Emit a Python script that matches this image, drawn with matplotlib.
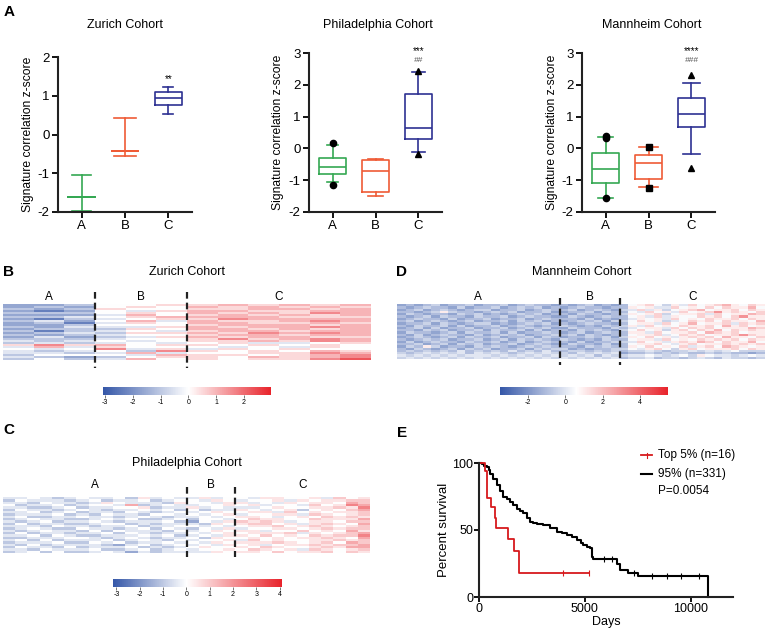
import numpy as np
import matplotlib
matplotlib.use("Agg")
import matplotlib.pyplot as plt
from matplotlib.colors import LinearSegmentedColormap, Normalize
from matplotlib.cm import ScalarMappable
from matplotlib.lines import Line2D
import matplotlib.transforms as mtransforms

plt.rcParams['font.family'] = ['Liberation Sans', 'DejaVu Sans']
plt.rcParams['axes.unicode_minus'] = False

W, H = 770, 628

# ---------------- panel A: box summaries (whislo, q1, med, q3, whishi) ----------------
groups = ["A", "B", "C"]
box_colors = ["#35a853", "#ef5b36", "#2e3192"]

zurich_stats = [(-1.98, -1.61, -1.61, -1.61, -1.05),
                (-0.56, -0.42, -0.42, -0.42, 0.42),
                (0.53, 0.76, 0.94, 1.09, 1.23)]
zurich_fliers = [[], [], []]
zurich_caps = [0.44, 0.5, 0.22]

philly_stats = [(-1.05, -0.82, -0.58, -0.29, 0.10),
                (-1.49, -1.37, -0.72, -0.37, -0.32),
                (-0.10, 0.30, 0.65, 1.71, 2.40)]
philly_fliers = [[0.16, -1.14], [], [2.42, -0.18]]
philly_caps = [0.27, 0.35, 0.3]

mannheim_stats = [(-1.56, -1.10, -0.66, -0.16, 0.35),
                  (-1.21, -0.97, -0.45, -0.21, 0.05),
                  (-0.18, 0.66, 1.07, 1.60, 2.07)]
mannheim_fliers = [[0.39, 0.34, -1.56], [0.05, -1.23], [2.32, -0.63]]
mannheim_caps = [0.34, 0.42, 0.38]

# ---------------- heatmaps: one char per cell, '|' splits groups A|B|C ----------------
LEVELS = {'0': -3.0, '1': -2.3, '2': -1.6, '3': -1.0, '4': -0.45, '5': 0.0,
          '6': 0.5, '7': 1.0, '8': 1.6, '9': 2.3, 'a': 3.0, 'b': 3.8}

zurich_rows = [
    "223|556|676767", "232|565|767676", "323|655|667767", "212|546|776677",
    "333|565|767687", "222|475|676767", "334|567|777666", "213|456|687777",
    "342|574|766787", "231|465|776676", "223|555|677767", "324|446|767787",
    "233|365|776767", "313|454|677677", "234|366|768787", "323|455|677677",
    "242|346|767766", "333|455|686787", "434|545|667687", "343|454|564456",
    "686|756|656565", "474|655|545465", "545|846|465655", "434|538|656576",
    "443|474|556687", "355|547|665678", "432|356|657678", "353|475|656689",
]

philly_rows = [
    "445434544536454|4645|54665564756", "354443453445345|5465|45564656677",
    "443544346544436|5546|64546566587", "534453455483454|4556|56455475698",
    "443345344556344|6454|44565566769", "354434543445453|5344|65456356578",
    "445345344354345|4565|56647565667", "344453435443554|5456|45566476567",
    "453344544345434|4545|66545657676", "345443345453345|3554|57665576668",
    "434534454344453|2546|76764566577", "353443345534344|4365|67756467658",
    "444354434453445|5454|56675676567", "345433544345354|3546|45566567677",
    "434544353544435|4565|66455756586", "353443445354344|5456|56667465678",
    "445354334445453|4546|65756576779", "334445543454344|5365|56565667658",
    "453534445345435|4556|47565566767", "344453354534454|5465|66676567587",
    "435344443245345|4546|56456676778", "354435344453434|5655|65765567688",
    "443544453345345|4556|57656476567", "345353345424344|4465|66575667576",
]

mannheim_rows = [
    "2323423342334234332|3234232|36786475867897687",
    "3234332423342343423|2343323|37675586768687796",
    "2342343234423342343|3423432|45857467896778687",
    "3323474332343423342|2334243|36586758678a78768",
    "2432332434232343423|3243323|47678467785867798",
    "3234243324334234332|2432343|36758576687868a77",
    "2343324233423342343|3324232|35767586768778687",
    "3423432342334243423|2343424|46867456878687769",
    "2334243234423234342|3234332|36775867967785878",
    "3243342423342343233|4323243|47586768778697867",
    "2342423342334234342|2433324|35677586878677798",
    "3324342334243342423|3243432|46867478687968787",
    "2433234243342423343|2342343|37758677869878677",
    "3242343324234342334|3424323|36778568786778a87",
    "2343234243342334243|2334342|47686757878697768",
    "3234342334234243432|4323243|36775867687878687",
    "2423433243342342343|3242334|45867578798687796",
    "3342342434233423432|2433242|36778657867787878",
    "2437423324343234343|3324343|37686768578698767",
    "3243234243423342434|4232334|46578647867778687",
    "3434343534343534353|3443434|34454344545456444",
    "4345454535454345454|4354545|23343434334343323",
    "5454545455545454545|4545354|45565456476554565",
    "4545454545454545454|5454545|34453443454354434",
]

# ---------------- panel E: Kaplan-Meier steps ----------------
top_t = [0, 270, 380, 580, 740, 820, 1370, 1640, 1870, 5190]
top_s = [100, 94, 74, 67, 59, 51.5, 43, 34.5, 17.7, 17.7]
top_cens = [3960, 5190]

rest_t = [0, 150, 250, 362, 450, 520, 650, 835, 1000, 1150, 1300, 1465, 1600, 1780,
          1950, 2090, 2250, 2410, 2550, 2725, 3040, 3355, 3670, 3900, 4140, 4400,
          4615, 4800, 4930, 5100, 5245, 5320, 5400, 6500, 6660, 7050, 7520, 10830]
rest_s = [100, 99, 98, 97, 95, 92, 88, 83.6, 79, 75, 73, 71, 68.5, 66,
          64, 62.4, 59, 56.2, 55, 54.5, 53.7, 51.2, 48.7, 47.5, 46.3, 44.5,
          42.5, 40.5, 38.8, 37.5, 36.3, 30, 28, 25, 20, 18, 15.7, 0]
rest_cens = [5900, 6300, 7300, 8150, 8900, 9550, 10400]

BLUE = "#3557a8"
RED = "#e8232b"

fig = plt.figure(figsize=(W / 100, H / 100), dpi=100)


def px_axes(x0, y0, x1, y1):
    return fig.add_axes([x0 / W, 1 - y1 / H, (x1 - x0) / W, (y1 - y0) / H])


def ftext(x, y, s, **kw):
    kw.setdefault('ha', 'center')
    kw.setdefault('va', 'center')
    fig.text(x / W, 1 - y / H, s, **kw)


def box_panel(ax, stats, fliers, caps, markers, ylim):
    for i, (st, fl) in enumerate(zip(stats, fliers)):
        lo, q1, med, q3, hi = st
        c = box_colors[i]
        d = dict(whislo=lo, q1=q1, med=med, q3=q3, whishi=hi, fliers=fl)
        lp = dict(color=c, lw=1.2)
        ax.bxp([d], positions=[i + 1], widths=0.62, capwidths=[caps[i]],
               boxprops=lp, whiskerprops=lp, capprops=lp, medianprops=lp,
               flierprops=dict(marker=markers[i], markerfacecolor='black',
                               markeredgecolor='black', markersize=4.5),
               manage_ticks=False)
    ax.set_xlim(0.45, 3.55)
    ax.set_ylim(*ylim)
    ax.set_yticks(np.arange(ylim[0], ylim[1] + 1))
    ax.set_xticks([1, 2, 3])
    ax.set_xticklabels(groups)
    for s in ['top', 'right']:
        ax.spines[s].set_visible(False)
    for s in ['left', 'bottom']:
        ax.spines[s].set_linewidth(1.5)
        ax.spines[s].set_color('#222222')
    ax.tick_params(direction='out', length=4, width=1.3, labelsize=9.5, pad=2)
    ax.set_ylabel("Signature correlation z-score", fontsize=8.7, labelpad=3)


ax1 = px_axes(58, 57, 192, 212)
box_panel(ax1, zurich_stats, zurich_fliers, zurich_caps, ['o', 'o', 'o'], (-2, 2))
ax1.text(3, 1.43, "**", ha='center', va='center', fontsize=7)
ftext(125, 25, "Zurich Cohort", fontsize=9)

ax2 = px_axes(309, 53, 442, 212)
box_panel(ax2, philly_stats, philly_fliers, philly_caps, ['o', 's', '^'], (-2, 3))
ax2.text(3, 3.07, "***", ha='center', va='center', fontsize=7)
ax2.text(3, 2.77, "##", ha='center', va='center', fontsize=6, color='#555555', style='italic')
ftext(378, 25, "Philadelphia Cohort", fontsize=9)

ax3 = px_axes(582, 53, 715, 212)
box_panel(ax3, mannheim_stats, mannheim_fliers, mannheim_caps, ['o', 's', '^'], (-2, 3))
ax3.text(3, 3.07, "****", ha='center', va='center', fontsize=7)
ax3.text(3, 2.77, "###", ha='center', va='center', fontsize=6, color='#555555', style='italic')
ftext(652, 25, "Mannheim Cohort", fontsize=9)


def heatmap(rows, box, cbox, vmin, vmax, white, cticks, lab_y, dash_y):
    parts = [r.split('|') for r in rows]
    sizes = [len(p) for p in parts[0]]
    mat = np.array([[LEVELS[ch] for ch in r.replace('|', '')] for r in rows])
    cmap = LinearSegmentedColormap.from_list('div', [(0, BLUE), (white, 'white'), (1, RED)])
    norm = Normalize(vmin=vmin, vmax=vmax)
    ax = px_axes(*box)
    ax.imshow(mat, cmap=cmap, norm=norm, aspect='auto', interpolation='nearest')
    ax.axis('off')
    edges = np.cumsum([0] + sizes) - 0.5
    tr = ax.get_xaxis_transform()
    for k, g in enumerate(groups):
        ax.text((edges[k] + edges[k + 1]) / 2, lab_y, g, transform=tr,
                ha='center', va='center', fontsize=8.5)
    for e in edges[1:-1]:
        ax.plot([e, e], dash_y, transform=tr, color='#222222', lw=1.6,
                ls=(0, (3, 1.8)), clip_on=False)
    cax = px_axes(*cbox)
    cb = fig.colorbar(ScalarMappable(norm=norm, cmap=cmap), cax=cax, orientation='horizontal')
    cb.outline.set_visible(False)
    cb.set_ticks(cticks)
    cax.tick_params(labelsize=5, length=2, width=0.5, pad=1, color='#444444')
    return ax


heatmap(zurich_rows, (3, 304, 371, 360), (103, 387, 271, 395), -3.07, 2.97, 3.07 / 6.04,
        [-3, -2, -1, 0, 1, 2], 1.125, [1.21, -0.14])
ftext(187, 272, "Zurich Cohort", fontsize=9)

heatmap(mannheim_rows, (397, 304, 765, 359), (500, 387, 668, 395), -3.5, 5.5, 4.1 / 9.0,
        [-2, 0, 2, 4], 1.125, [1.11, -0.11])
ftext(582, 272, "Mannheim Cohort", fontsize=9)

heatmap(philly_rows, (3, 497, 370, 553), (113, 579, 282, 587), -3.15, 4.1, 3.15 / 7.25,
        [-3, -2, -1, 0, 1, 2, 3, 4], 1.21, [1.18, -0.07])
ftext(187, 463, "Philadelphia Cohort", fontsize=9)

# ---------------- panel E ----------------
axE = px_axes(479, 463, 733, 597)


def step_at(ts, ss, t):
    idx = np.searchsorted(ts, t, side='right') - 1
    return np.asarray(ss)[idx]


axE.step(rest_t, rest_s, where='post', color='black', lw=1.5, clip_on=False)
axE.plot(rest_cens, step_at(rest_t, rest_s, rest_cens), '|', color='black', ms=4, mew=0.8)
axE.step(top_t, top_s, where='post', color='#d7191c', lw=1.3, clip_on=False)
axE.plot(top_cens, step_at(top_t, top_s, top_cens), '|', color='#d7191c', ms=4, mew=0.8)
axE.set_xlim(0, 12000)
axE.set_ylim(0, 100)
axE.set_xticks([0, 5000, 10000])
axE.set_yticks([0, 50, 100])
for s in ['top', 'right']:
    axE.spines[s].set_visible(False)
for s in ['left', 'bottom']:
    axE.spines[s].set_linewidth(1.5)
    axE.spines[s].set_color('#222222')
axE.tick_params(direction='out', length=3.5, width=1.3, labelsize=9, pad=0.5)
axE.set_xlabel("Days", fontsize=9)
axE.xaxis.set_label_coords(0.5, -0.14)
axE.set_ylabel("Percent survival", fontsize=9.5, labelpad=2)

# legend
px = mtransforms.Affine2D().scale(1 / W, -1 / H).translate(0, 1) + fig.transFigure
fig.add_artist(Line2D([641, 652], [455, 455], color='#d7191c', lw=1.3, transform=px))
fig.add_artist(Line2D([646.5, 646.5], [452.5, 457.5], color='#d7191c', lw=0.8, transform=px))
fig.add_artist(Line2D([641, 652], [474, 474], color='black', lw=1.5, transform=px))
ftext(658, 455, "Top 5% (n=16)", ha='left', fontsize=8.5)
ftext(658, 474, "95% (n=331)", ha='left', fontsize=8.5)
ftext(658, 491, "P=0.0054", ha='left', fontsize=8.5)

# panel letters
for lab, x, y in [("A", 9, 12), ("B", 9, 272), ("D", 402, 272), ("C", 9, 430), ("E", 402, 433)]:
    ftext(x, y, lab, fontsize=11, fontweight='bold')

fig.savefig("out.png", dpi=100)
